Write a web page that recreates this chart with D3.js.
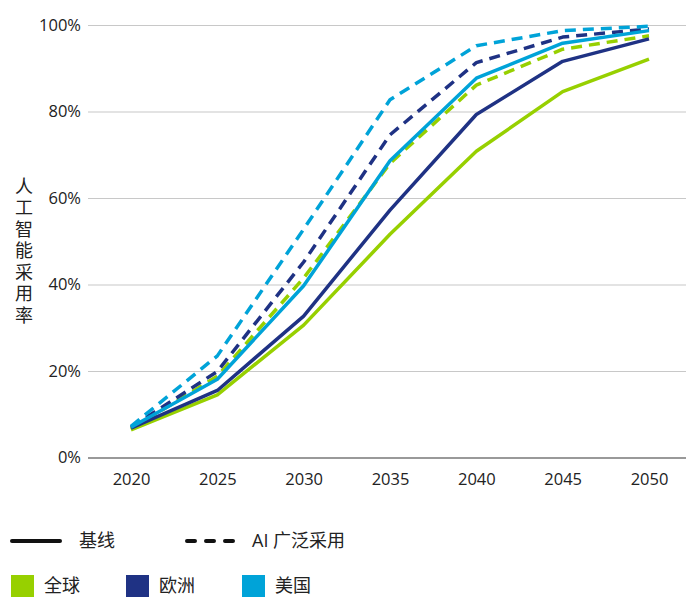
<!DOCTYPE html>
<html>
<head>
<meta charset="utf-8">
<script src="https://cdn.jsdelivr.net/npm/d3@7"></script>
<style>
    body { margin: 0; background: #fff; }
    text { font-family: "Open Sans", "Noto Sans CJK SC", sans-serif; fill: #222; }
    .tick text { font-size: 16.5px; }
    .legend-label { font-size: 18px; }
    .axis-title { font-size: 18px; writing-mode: vertical-rl; text-orientation: upright; letter-spacing: 3.5px; }
</style>
</head>
<body>
<svg id="chart" width="686" height="597"></svg>
<script>
// data
const years = [2020, 2025, 2030, 2035, 2040, 2045, 2050];
const yTicks = [0, 0.2, 0.4, 0.6, 0.8, 1.0];

const globalBase = [0.064, 0.145, 0.306, 0.516, 0.708, 0.846, 0.921];
const europeBase = [0.068, 0.155, 0.327, 0.572, 0.793, 0.916, 0.968];
const usBase     = [0.070, 0.181, 0.397, 0.686, 0.877, 0.958, 0.987];
const globalAI   = [0.066, 0.188, 0.415, 0.680, 0.861, 0.944, 0.975];
const europeAI   = [0.070, 0.199, 0.452, 0.746, 0.913, 0.972, 0.991];
const usAI       = [0.072, 0.235, 0.528, 0.827, 0.952, 0.987, 0.997];

const regionNames = ['全球', '欧洲', '美国'];
const scenarioNames = ['基线', 'AI 广泛采用'];
const yTitle = '人工智能采用率';

const colors = { '全球': '#97d000', '欧洲': '#1f3284', '美国': '#00a3d8' };

const series = [
    { region: '全球', dashed: true, values: globalAI },
    { region: '欧洲', dashed: true, values: europeAI },
    { region: '美国', dashed: true, values: usAI },
    { region: '全球', dashed: false, values: globalBase },
    { region: '欧洲', dashed: false, values: europeBase },
    { region: '美国', dashed: false, values: usBase },
];

const svg = d3.select('#chart');

// scales in page coordinates
const xScale = d3.scaleLinear().domain([2020, 2050]).range([131, 649]);
const yScale = d3.scaleLinear().domain([0, 1]).range([457.5, 25]);

// gridlines + y tick labels
const yAxis = d3.axisLeft(yScale)
    .tickValues(yTicks)
    .tickFormat(d3.format('.0%'))
    .tickSize(-(686 - 88))
    .tickPadding(7);

const yAxisG = svg.append('g')
    .attr('class', 'axis y-axis')
    .attr('transform', 'translate(88,0)')
    .call(yAxis);
yAxisG.select('.domain').remove();
yAxisG.selectAll('.tick line')
    .attr('stroke', d => d === 0 ? '#777' : '#c8c8c8')
    .attr('stroke-width', d => d === 0 ? 1.5 : 1.2);
yAxisG.selectAll('.tick text').attr('fill', '#222');

// x tick labels
const xAxis = d3.axisBottom(xScale)
    .tickValues(years)
    .tickFormat(d3.format('d'))
    .tickSize(0)
    .tickPadding(16);

const xAxisG = svg.append('g')
    .attr('class', 'axis x-axis')
    .attr('transform', 'translate(0,457.5)')
    .call(xAxis);
xAxisG.select('.domain').remove();
xAxisG.selectAll('.tick text').attr('fill', '#222');

// vertical y-axis title (upright characters, top to bottom)
svg.append('text')
    .attr('class', 'axis-title')
    .attr('x', 23)
    .attr('y', 177)
    .text(yTitle);

// lines
const line = d3.line()
    .x((d, i) => xScale(years[i]))
    .y(d => yScale(d));

svg.append('g')
    .selectAll('path')
    .data(series)
    .join('path')
    .attr('d', d => line(d.values))
    .attr('fill', 'none')
    .attr('stroke', d => colors[d.region])
    .attr('stroke-width', 3.5)
    .attr('stroke-dasharray', d => d.dashed ? '11,7' : null)
    .attr('stroke-linejoin', 'round');

// legend: line styles
const legend1 = svg.append('g');
legend1.append('line')
    .attr('x1', 12).attr('x2', 60).attr('y1', 541).attr('y2', 541)
    .attr('stroke', '#111').attr('stroke-width', 4).attr('stroke-linecap', 'round');
legend1.append('line')
    .attr('x1', 187).attr('x2', 233).attr('y1', 541).attr('y2', 541)
    .attr('stroke', '#111').attr('stroke-width', 4).attr('stroke-linecap', 'round')
    .attr('stroke-dasharray', '8,11');
legend1.selectAll('text')
    .data(scenarioNames)
    .join('text')
    .attr('class', 'legend-label')
    .attr('x', (d, i) => i === 0 ? 79 : 252)
    .attr('y', 541)
    .attr('dy', '0.35em')
    .text(d => d);

// legend: region swatches
const swatchX = [11, 126, 242];
const legend2 = svg.append('g')
    .selectAll('g')
    .data(regionNames)
    .join('g')
    .attr('transform', (d, i) => `translate(${swatchX[i]},575)`);
legend2.append('rect')
    .attr('width', 23).attr('height', 22)
    .attr('fill', d => colors[d]);
legend2.append('text')
    .attr('class', 'legend-label')
    .attr('x', 33)
    .attr('y', 11)
    .attr('dy', '0.35em')
    .text(d => d);
</script>
</body>
</html>
